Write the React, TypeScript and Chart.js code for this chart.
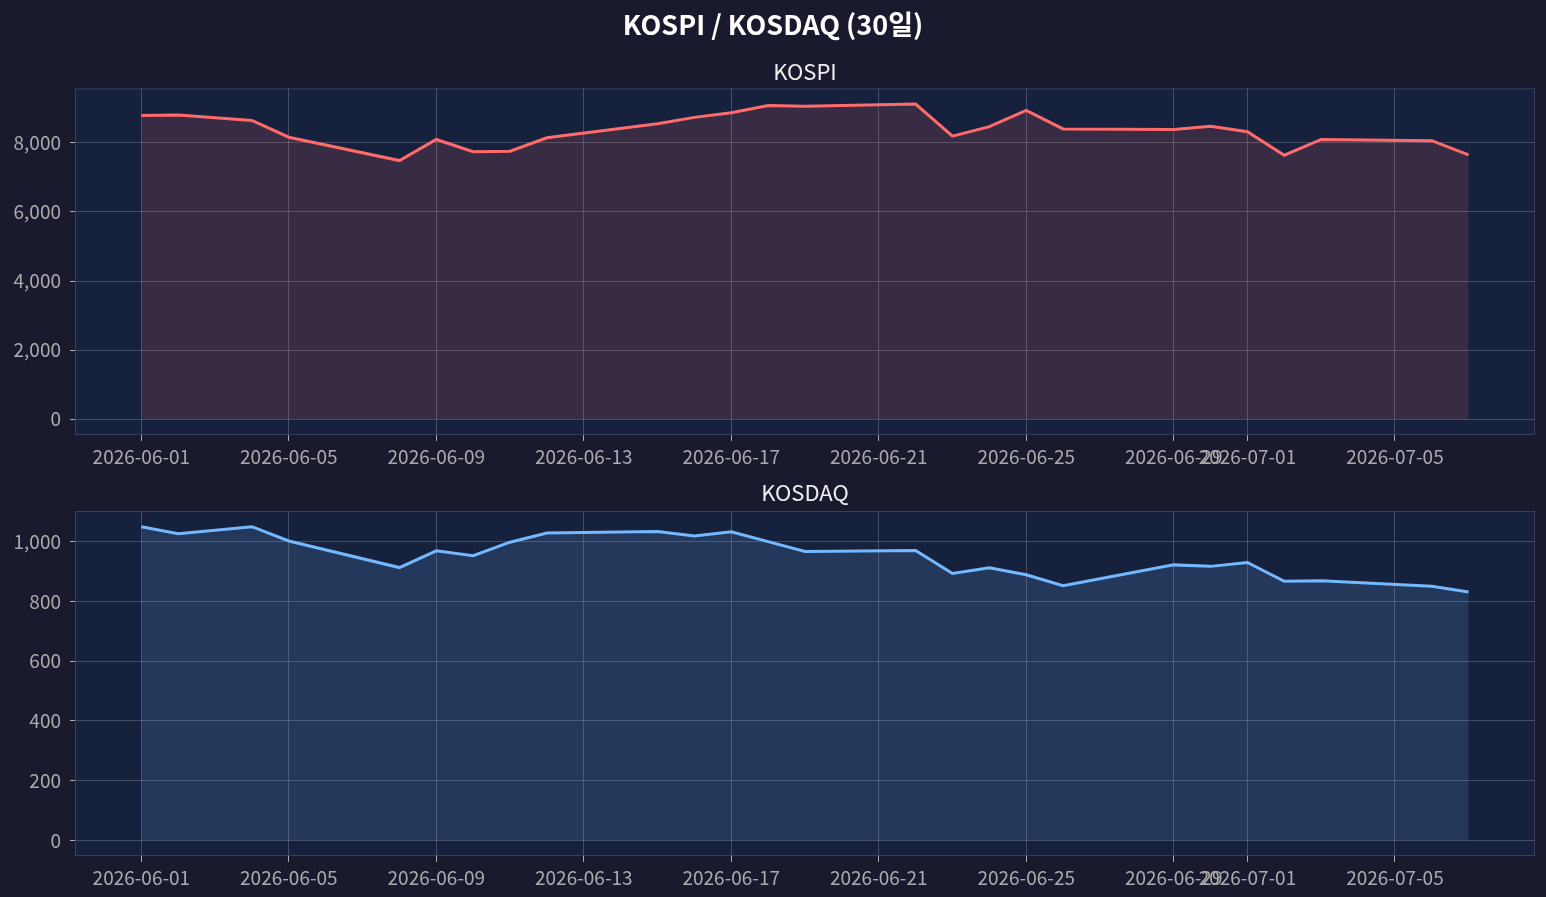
import { useEffect, useRef } from 'react'
import { Chart, registerables } from 'chart.js'

Chart.register(...registerables)

const FONT = "'Noto Sans CJK KR', 'Noto Sans', sans-serif"

// 거래일 (6/3 휴장)
const dates = [
  '2026-06-01', '2026-06-02', '2026-06-04', '2026-06-05',
  '2026-06-08', '2026-06-09', '2026-06-10', '2026-06-11', '2026-06-12',
  '2026-06-15', '2026-06-16', '2026-06-17', '2026-06-18', '2026-06-19',
  '2026-06-22', '2026-06-23', '2026-06-24', '2026-06-25', '2026-06-26',
  '2026-06-29', '2026-06-30', '2026-07-01', '2026-07-02', '2026-07-03',
  '2026-07-06', '2026-07-07',
]

const kospi = [
  8790, 8800, 8645, 8160,
  7485, 8095, 7740, 7755, 8145,
  8550, 8735, 8870, 9080, 9055,
  9120, 8190, 8465, 8935, 8400,
  8385, 8480, 8320, 7640, 8095,
  8060, 7650,
]

const kosdaq = [
  1051, 1027, 1051, 1003,
  914, 970, 954, 999, 1030,
  1035, 1020, 1034, 1001, 968,
  971, 894, 913, 890, 853,
  923, 918, 931, 868, 870,
  851, 832,
]

const xTickDates = [
  '2026-06-01', '2026-06-05', '2026-06-09', '2026-06-13', '2026-06-17',
  '2026-06-21', '2026-06-25', '2026-06-29', '2026-07-01', '2026-07-05',
]
const kospiTicks = [0, 2000, 4000, 6000, 8000]
const kosdaqTicks = [0, 200, 400, 600, 800, 1000]

const DAY = 86400000
const t0 = Date.parse(dates[0])
const dayOf = (d: string) => (Date.parse(d) - t0) / DAY
const labelOf = (v: number) => new Date(t0 + Math.round(v) * DAY).toISOString().slice(0, 10)

const GRID = 'rgba(255, 255, 255, 0.2)'
const TICK = '#aaaaaa'
const SPINE = '#3d3d62'
const FACE = '#16213e'

// 축 배경 + 테두리 (matplotlib 스타일)
const framePlugin = {
  id: 'frame',
  beforeDraw(chart: Chart) {
    const { ctx, chartArea: a } = chart
    ctx.save()
    ctx.fillStyle = FACE
    ctx.fillRect(a.left, a.top, a.right - a.left, a.bottom - a.top)
    ctx.restore()
  },
  afterDraw(chart: Chart) {
    const { ctx, chartArea: a } = chart
    ctx.save()
    ctx.strokeStyle = SPINE
    ctx.lineWidth = 1
    ctx.strokeRect(a.left + 0.5, a.top + 0.5, a.right - a.left - 1, a.bottom - a.top - 1)
    ctx.restore()
  },
}

type PanelProps = {
  top: number
  height: number
  xHeight: number
  title: any
  subtitle?: any
  values: number[]
  yTicks: number[]
  color: string
  fill: string
}

function Panel({ top, height, xHeight, title, subtitle, values, yTicks, color, fill }: PanelProps) {
  const canvasRef = useRef<HTMLCanvasElement | null>(null)

  useEffect(() => {
    const ctx = canvasRef.current?.getContext('2d')
    if (!ctx) return

    const xs = dates.map(dayOf)
    const xSpan = xs[xs.length - 1] - xs[0]
    const yMax = Math.max(...values)

    const chart = new Chart(ctx, {
      type: 'line',
      data: {
        datasets: [
          {
            data: values.map((v, i) => ({ x: xs[i], y: v })),
            borderColor: color,
            backgroundColor: fill,
            borderWidth: 3,
            pointRadius: 0,
            tension: 0,
            fill: 'origin',
          },
        ],
      },
      plugins: [framePlugin],
      options: {
        animation: false,
        responsive: true,
        maintainAspectRatio: false,
        layout: { padding: 0 },
        scales: {
          x: {
            type: 'linear',
            min: xs[0] - xSpan * 0.05,
            max: xs[xs.length - 1] + xSpan * 0.05,
            afterBuildTicks: (s: any) => {
              s.ticks = xTickDates.map((d) => ({ value: dayOf(d) }))
            },
            afterFit: (s: any) => {
              s.height = xHeight
            },
            ticks: {
              color: TICK,
              font: { family: FONT, size: 19 },
              padding: 4,
              maxRotation: 0,
              autoSkip: false,
              callback: (v: any) => labelOf(Number(v)),
            },
            grid: { color: GRID, tickColor: TICK, tickLength: 6 },
            border: { display: false },
          },
          y: {
            type: 'linear',
            position: 'left',
            min: -yMax * 0.05,
            max: yMax * 1.05,
            afterBuildTicks: (s: any) => {
              s.ticks = yTicks.map((v) => ({ value: v }))
            },
            afterFit: (s: any) => {
              s.width = 75
            },
            ticks: {
              color: TICK,
              font: { family: FONT, size: 19 },
              padding: 9,
              callback: (v: any) => Number(v).toLocaleString('en-US'),
            },
            grid: { color: GRID, tickColor: TICK, tickLength: 5 },
            border: { display: false },
          },
          // 오른쪽 여백용
          yr: {
            type: 'linear',
            position: 'right',
            display: true,
            afterFit: (s: any) => {
              s.width = 11
            },
            ticks: { display: false },
            grid: { display: false, drawTicks: false },
            border: { display: false },
          },
        },
        plugins: {
          legend: { display: false },
          tooltip: { enabled: false },
          title,
          subtitle: subtitle ?? { display: false },
        },
      },
    })

    return () => chart.destroy()
  }, [top, height, xHeight, title, subtitle, values, yTicks, color, fill])

  return (
    <div style={{ position: 'absolute', left: 0, top, width: 1546, height }}>
      <canvas ref={canvasRef} />
    </div>
  )
}

const mainTitle = {
  display: true,
  text: 'KOSPI / KOSDAQ (30일)',
  color: '#ffffff',
  font: { family: FONT, size: 27, weight: 'bold' },
  padding: { top: 9, bottom: 8 },
  fullSize: true,
}
const kospiTitle = {
  display: true,
  text: 'KOSPI',
  color: '#eeeeee',
  font: { family: FONT, size: 22, weight: 'normal' },
  padding: { top: 9, bottom: 3.5 },
  fullSize: false,
}
const kosdaqTitle = {
  display: true,
  text: 'KOSDAQ',
  color: '#eeeeee',
  font: { family: FONT, size: 22, weight: 'normal' },
  padding: { top: 9.8, bottom: 4.8 },
  fullSize: false,
}

export default function App() {
  return (
    <div
      style={{
        position: 'absolute',
        left: 0,
        top: 0,
        width: 1546,
        height: 897,
        background: '#1a1a2e',
        overflow: 'hidden',
      }}
    >
      <Panel
        top={0}
        height={470}
        xHeight={35}
        title={mainTitle}
        subtitle={kospiTitle}
        values={kospi}
        yTicks={kospiTicks}
        color="#ff6b6b"
        fill="rgba(255, 107, 107, 0.15)"
      />
      <Panel
        top={470}
        height={427}
        xHeight={41}
        title={kosdaqTitle}
        values={kosdaq}
        yTicks={kosdaqTicks}
        color="#74b9ff"
        fill="rgba(116, 185, 255, 0.15)"
      />
    </div>
  )
}
